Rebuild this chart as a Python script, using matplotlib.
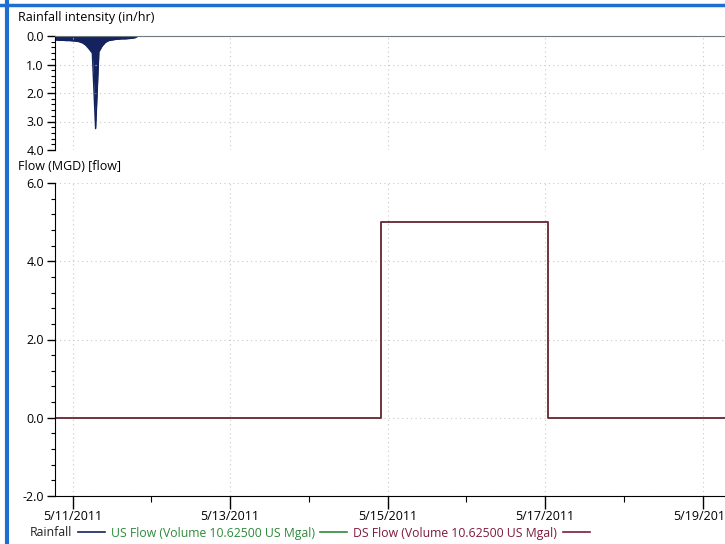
import matplotlib
matplotlib.use("Agg")
import matplotlib.pyplot as plt
import matplotlib.dates as mdates
from matplotlib.ticker import MultipleLocator, FuncFormatter
from matplotlib.lines import Line2D
import numpy as np
from datetime import datetime, timedelta

plt.rcParams['font.family'] = ['Open Sans', 'DejaVu Sans']

# ---- data ----
rain_start = datetime(2011, 5, 10, 18, 0)
rain_values = [0.12, 0.14, 0.15, 0.15, 0.16, 0.16, 0.17, 0.18, 0.20, 0.24, 0.32,
               0.45, 0.60, 3.25, 0.55, 0.35, 0.22, 0.16, 0.14, 0.12, 0.11, 0.10,
               0.10, 0.09, 0.08, 0.06, 0.0]
rain_times = [rain_start + timedelta(hours=i) for i in range(len(rain_values))]

flow_times = [datetime(2011, 5, 10, 18, 0), datetime(2011, 5, 14, 22, 0),
              datetime(2011, 5, 17, 1, 0), datetime(2011, 5, 20, 0, 0)]
us_flow = [0.0, 5.0, 0.0, 0.0]
ds_flow = [0.0, 5.0, 0.0, 0.0]

legend_labels = ["Rainfall", "US Flow (Volume 10.62500 US Mgal)",
                 "DS Flow (Volume 10.62500 US Mgal)"]

rain_color = "#14235e"
us_color = "#2f8a3c"
ds_color = "#7d1c3c"

W, H = 725, 544
fig = plt.figure(figsize=(W / 100, H / 100), dpi=100)

def fx(px):
    return px / W

def fy(py):
    return 1 - py / H

left = fx(55)
ax_r = fig.add_axes([left, fy(150), 1 - left, fy(36) - fy(150)])
ax_f = fig.add_axes([left, fy(496), 1 - left, fy(183) - fy(496)], sharex=ax_r)

x0 = mdates.date2num(datetime(2011, 5, 11)) - (72.6 - 55) / 78.6
x1 = mdates.date2num(datetime(2011, 5, 19)) + (725 - 702.7) / 78.6

# rainfall
rt = mdates.date2num(rain_times)
ax_r.fill_between(rt, 0, rain_values, color=rain_color, linewidth=0)
ax_r.plot(rt, rain_values, color=rain_color, linewidth=1.0)
ax_r.set_ylim(4.0, 0.0)
ax_r.yaxis.set_major_locator(MultipleLocator(1.0))
ax_r.yaxis.set_minor_locator(MultipleLocator(0.2))

# flow
ft = mdates.date2num(flow_times)
ax_f.plot(ft, us_flow, drawstyle="steps-post", color=us_color, linewidth=1.2)
ax_f.plot(ft, ds_flow, drawstyle="steps-post", color=ds_color, linewidth=1.1)
ax_f.set_ylim(-2.0, 6.0)
ax_f.yaxis.set_major_locator(MultipleLocator(2.0))
ax_f.yaxis.set_minor_locator(MultipleLocator(0.4))

ax_f.set_xlim(x0, x1)
ax_f.xaxis.set_major_locator(mdates.DayLocator(bymonthday=[11, 13, 15, 17, 19]))
ax_f.xaxis.set_minor_locator(mdates.DayLocator())

def datefmt(v, pos=None):
    d = mdates.num2date(v)
    return f"{d.month}/{d.day}/{d.year}"

ax_f.xaxis.set_major_formatter(FuncFormatter(datefmt))
yfmt = FuncFormatter(lambda v, p: f"{v:.1f}".replace("\u2212", "-"))
for ax in (ax_r, ax_f):
    ax.yaxis.set_major_formatter(yfmt)
    ax.spines['right'].set_visible(False)
    ax.grid(True, which='major', linestyle=(0, (1, 3)), color="#c8c8c8", linewidth=0.8)
    ax.tick_params(axis='y', which='major', length=6, width=1.0, labelsize=9, pad=2)
    ax.tick_params(axis='y', which='minor', length=3, width=0.8)
    ax.set_facecolor('white')

ax_r.spines['top'].set_color("#707880")
ax_r.spines['bottom'].set_visible(False)
ax_f.spines['top'].set_visible(False)
ax_r.tick_params(axis='x', which='both', bottom=False, labelbottom=False)
ax_f.tick_params(axis='x', which='major', length=9, width=1.0, labelsize=9, pad=1)
ax_f.tick_params(axis='x', which='minor', length=4, width=0.8)

fig.text(fx(18), fy(18), "Rainfall intensity (in/hr)", fontsize=9, va='center', ha='left')
fig.text(fx(18), fy(166), "Flow (MGD) [flow]", fontsize=9, va='center', ha='left')

# legend
handles = [Line2D([], [], color=rain_color, lw=1.2),
           Line2D([], [], color=us_color, lw=1.2),
           Line2D([], [], color=ds_color, lw=1.2)]
leg = fig.legend(handles, legend_labels, loc='center left',
                 bbox_to_anchor=(fx(24), fy(533)), ncol=3, frameon=False,
                 markerfirst=False, fontsize=8.8, handlelength=2.2,
                 handletextpad=0.45, columnspacing=0.5, borderpad=0,
                 labelcolor=["#222222", us_color, ds_color])

# window frame
fig.add_artist(Line2D([fx(7), fx(7)], [0, 1], color="#1c6fd1", lw=3, transform=fig.transFigure))
fig.add_artist(Line2D([0, 1], [fy(5), fy(5)], color="#1c6fd1", lw=2.5, transform=fig.transFigure))

fig.savefig("out.png", dpi=100)
